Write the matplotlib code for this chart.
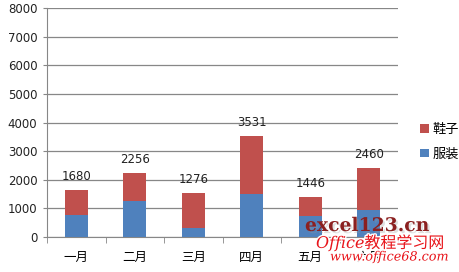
import numpy as np
import matplotlib.pyplot as plt
import matplotlib.patheffects as pe

plt.rcParams['font.family'] = ['Noto Sans CJK SC', 'DejaVu Sans']

months = ['一月', '二月', '三月', '四月', '五月', '六月']
clothes = [780, 1250, 315, 1510, 745, 930]      # 服装
shoes = [875, 1000, 1235, 2010, 665, 1490]      # 鞋子
totals = ['1680', '2256', '1276', '3531', '1446', '2460']

fig = plt.figure(figsize=(4.59, 2.72), dpi=100)
ax = fig.add_axes([47/459, 35/272, 351/459, 229/272])

x = np.arange(len(months))
w = 0.39
ax.bar(x, clothes, w, color='#4f81bd', label='服装', zorder=3)
ax.bar(x, shoes, w, bottom=clothes, color='#c0504d', label='鞋子', zorder=3)

tops = np.array(clothes) + np.array(shoes)
for xi, t, s in zip(x, tops, totals):
    ax.annotate(s, (xi, t), xytext=(0, 5), textcoords='offset points',
                ha='center', va='bottom', fontsize=8.5, color='#222222',
                family='DejaVu Sans')

ax.set_xlim(-0.5, 5.5)
ax.set_ylim(0, 8000)
ax.set_yticks(np.arange(0, 8001, 1000))
ax.grid(axis='y', color='#878787', linewidth=0.9, zorder=0)
ax.set_xticks(x)
ax.set_xticklabels(months, fontsize=9)
ax.set_xticks(np.arange(-0.5, 6, 1), minor=True)
ax.tick_params(axis='x', which='major', length=0, pad=10)
ax.tick_params(axis='x', which='minor', length=4, color='#878787', direction='out')
ax.tick_params(axis='y', length=3, color='#878787', labelsize=8.5, pad=4,
               labelcolor='#222222')
for lab in ax.get_yticklabels():
    lab.set_family('DejaVu Sans')
for sp in ['top', 'right']:
    ax.spines[sp].set_visible(False)
for sp in ['left', 'bottom']:
    ax.spines[sp].set_color('#878787')

h, l = ax.get_legend_handles_labels()
ax.legend(h[::-1], l[::-1], loc='center left', bbox_to_anchor=(1.03, 0.415),
          frameon=False, fontsize=9.5, handlelength=0.65, handleheight=0.65,
          handletextpad=0.3, labelspacing=0.85)

# watermark
fig.text(305/459, 1 - 226/272, 'excel123.cn', fontsize=13.5, fontweight='bold',
         family='DejaVu Serif', color='#8b2020', va='center',
         path_effects=[pe.withSimplePatchShadow(offset=(1.5, -1.5), shadow_rgbFace='#999999')])
fig.text(316/459, 1 - 243/272, 'Office教程学习网', fontsize=11.5, style='italic',
         color='#e8141a', va='center', family=['DejaVu Serif', 'Noto Sans CJK SC'],
         path_effects=[pe.withStroke(linewidth=2, foreground='white')])
fig.text(330/459, 1 - 257/272, 'www.office68.com', fontsize=9.2, style='italic',
         color='#e8141a', va='center', family='DejaVu Serif',
         path_effects=[pe.withStroke(linewidth=2, foreground='white')])

fig.savefig('out.png', dpi=100)
